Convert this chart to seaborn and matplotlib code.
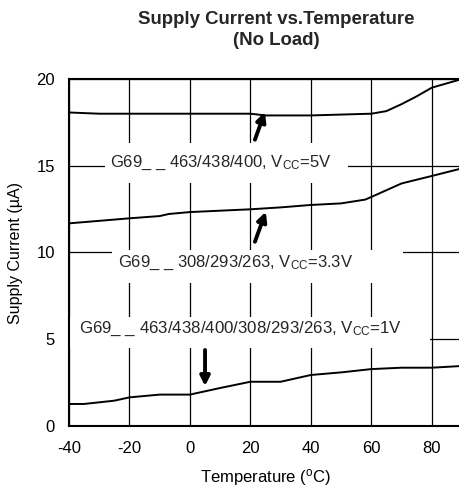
import numpy as np
import pandas as pd
import matplotlib
matplotlib.use("Agg")
import matplotlib.pyplot as plt
from matplotlib.patches import Rectangle
import seaborn as sns

# ---- data ----
temp_5v = [-40, -30, -20, 0, 20, 25, 30, 40, 50, 60, 65, 70, 75, 80, 90]
curr_5v = [18.07, 18.0, 18.0, 18.0, 18.0, 17.9, 17.9, 17.9, 17.95, 18.0, 18.15, 18.55, 19.0, 19.5, 20.0]

temp_33v = [-40, -20, -10, -7, 0, 10, 20, 30, 40, 50, 58, 60, 70, 80, 90]
curr_33v = [11.68, 11.97, 12.1, 12.22, 12.33, 12.41, 12.49, 12.6, 12.74, 12.83, 13.05, 13.2, 13.98, 14.41, 14.85]

temp_1v = [-40, -35, -25, -20, -10, 0, 10, 20, 30, 40, 50, 60, 70, 80, 90]
curr_1v = [1.27, 1.27, 1.46, 1.65, 1.81, 1.81, 2.19, 2.55, 2.55, 2.94, 3.09, 3.28, 3.36, 3.36, 3.46]

x_ticks = [-40, -20, 0, 20, 40, 60, 80]
y_ticks = [0, 5, 10, 15, 20]

title_lines = "Supply Current vs.Temperature\n(No Load)"
label_5v = r"G69_ _ 463/438/400, V$_{\mathrm{CC}}$=5V"
label_33v = r"G69_ _ 308/293/263, V$_{\mathrm{CC}}$=3.3V"
label_1v = r"G69_ _ 463/438/400/308/293/263, V$_{\mathrm{CC}}$=1V"

sns.set_theme(style="white")
plt.rcParams["font.family"] = ["Liberation Sans", "DejaVu Sans"]
plt.rcParams["mathtext.fontset"] = "custom"
plt.rcParams["mathtext.rm"] = "Liberation Sans"
plt.rcParams["mathtext.it"] = "Liberation Sans:italic"
plt.rcParams["mathtext.bf"] = "Liberation Sans:bold"
plt.rcParams["axes.unicode_minus"] = False

df = pd.concat([
    pd.DataFrame({"T": temp_5v, "I": curr_5v, "s": "5V"}),
    pd.DataFrame({"T": temp_33v, "I": curr_33v, "s": "3.3V"}),
    pd.DataFrame({"T": temp_1v, "I": curr_1v, "s": "1V"}),
])

fig = plt.figure(figsize=(4.60, 4.94), dpi=100)
ax = fig.add_axes([69 / 460, 1 - 426 / 494, (462 - 69) / 460, (426 - 79) / 494])

sns.lineplot(data=df, x="T", y="I", units="s", estimator=None, color="black",
             lw=1.4, ax=ax, legend=False, zorder=3)

ax.set_xlim(-40, 90)
ax.set_ylim(0, 20)
ax.set_xticks(x_ticks)
ax.set_yticks(y_ticks)
ax.tick_params(axis="x", labelsize=12, colors="black", length=0, pad=11)
ax.tick_params(axis="y", labelsize=12, colors="black", length=0, pad=10)
ax.grid(True, color="black", lw=0.9, zorder=1)
ax.set_axisbelow(True)
for side in ["left", "bottom", "top"]:
    ax.spines[side].set_visible(True)
    ax.spines[side].set_color("black")
    ax.spines[side].set_linewidth(1.5)
    ax.spines[side].set_zorder(5)
ax.spines["right"].set_visible(False)

ax.set_xlabel("Temperature ($^{\\mathrm{o}}$C)", fontsize=12, color="black", labelpad=8)
ax.set_ylabel("Supply Current (\u00b5A)", fontsize=11.5, color="black", labelpad=10)

fig.text(276 / 460, 1 - 30 / 494, title_lines, ha="center", va="center",
         fontsize=13.4, fontweight="bold", linespacing=1.3)

# white label backgrounds that interrupt the grid
for (x0, x1, y0, y1) in [(-28.1, 52.2, 14.0, 16.3),
                         (-25.8, 70.4, 8.24, 10.14),
                         (-39.7, 79.5, 4.5, 6.28)]:
    ax.add_patch(Rectangle((x0, y0), x1 - x0, y1 - y0, facecolor="white",
                           edgecolor="none", zorder=2))

ax.text(10.3, 15.15, label_5v, ha="center", va="center", fontsize=12, zorder=2.5)
ax.text(15.2, 9.4, label_33v, ha="center", va="center", fontsize=12, zorder=2.5)
ax.text(16.9, 5.6, label_1v, ha="center", va="center", fontsize=12.2, zorder=2.5)

arrow = dict(arrowstyle="-|>", lw=2.8, color="black", mutation_scale=14, shrinkA=0, shrinkB=0)
ax.annotate("", xy=(24.8, 18.1), xytext=(21.5, 16.5), arrowprops=arrow, zorder=4)
ax.annotate("", xy=(25.1, 12.35), xytext=(21.5, 10.62), arrowprops=arrow, zorder=4)
ax.annotate("", xy=(5.0, 2.3), xytext=(5.0, 4.38), arrowprops=arrow, zorder=4)

fig.savefig("out.png", dpi=100)
